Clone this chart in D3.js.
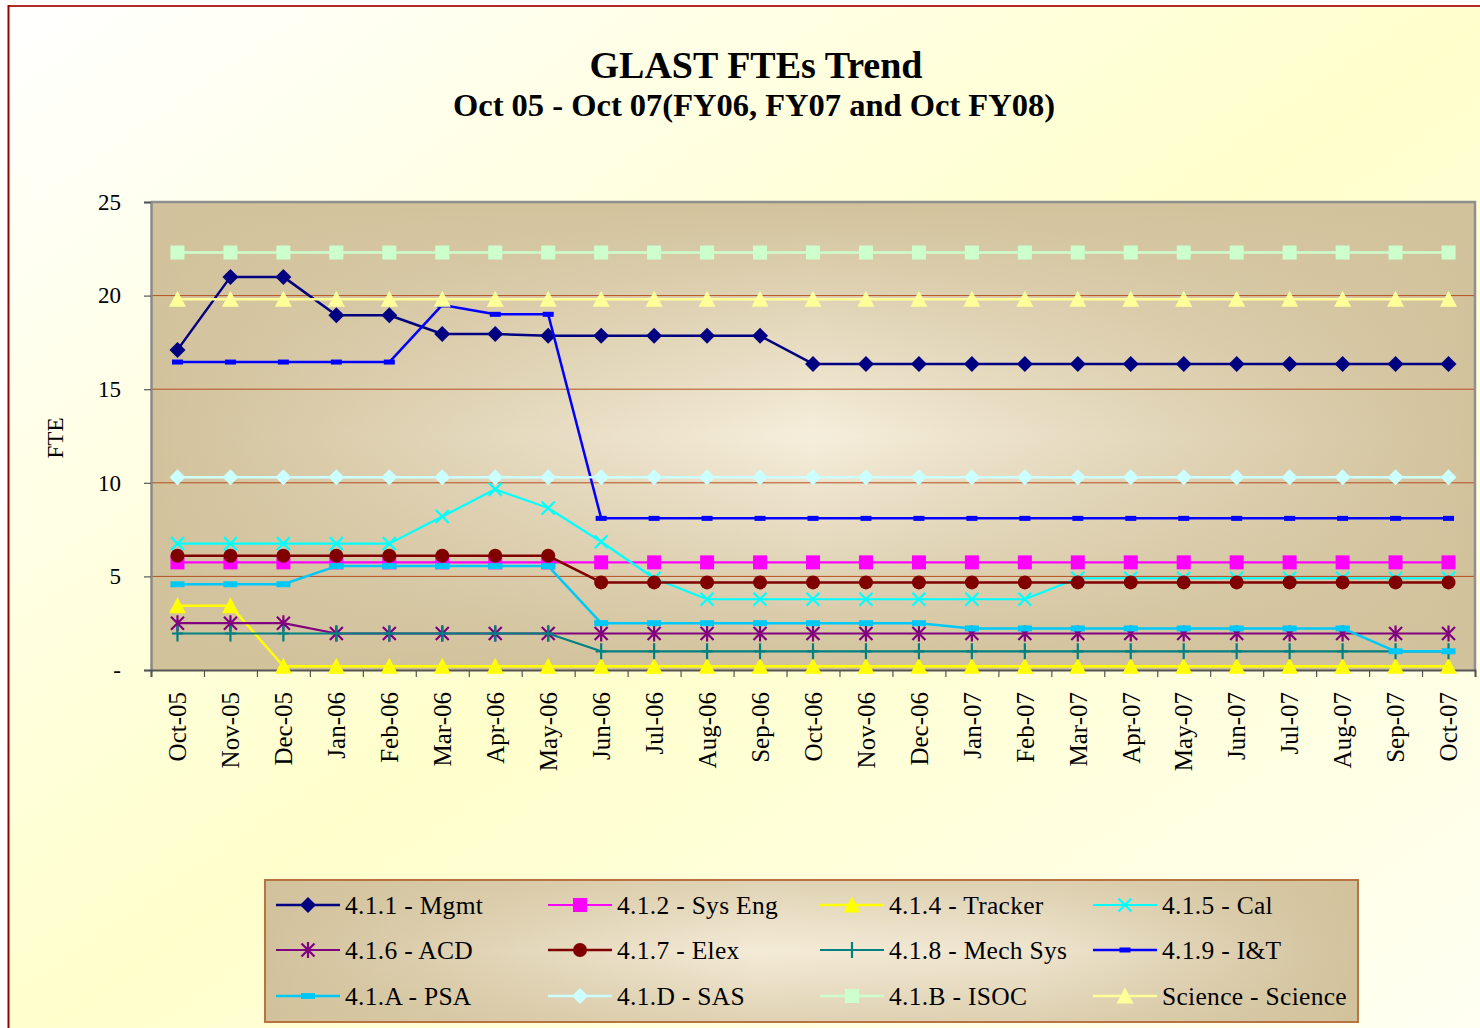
<!DOCTYPE html>
<html>
<head>
<meta charset="utf-8">
<script src="https://cdn.jsdelivr.net/npm/d3@7/dist/d3.min.js"></script>
<style>
  html, body { margin: 0; padding: 0; background: #ffffff; }
  svg { display: block; }
  text { font-family: "Liberation Serif", "Times New Roman", serif; fill: #000; }
</style>
</head>
<body>
<svg id="chart" width="1480" height="1028"></svg>
<script>
const categories = ["Oct-05","Nov-05","Dec-05","Jan-06","Feb-06","Mar-06","Apr-06","May-06","Jun-06","Jul-06","Aug-06","Sep-06","Oct-06","Nov-06","Dec-06","Jan-07","Feb-07","Mar-07","Apr-07","May-07","Jun-07","Jul-07","Aug-07","Sep-07","Oct-07"];

const seriesNames = ["4.1.1 - Mgmt","4.1.2 - Sys Eng","4.1.4 - Tracker","4.1.5 - Cal","4.1.6 - ACD","4.1.7 - Elex","4.1.8 - Mech Sys","4.1.9 - I&T","4.1.A - PSA","4.1.D - SAS","4.1.B - ISOC","Science - Science"];

const mgmt    = [17.1,21.0,21.0,18.95,18.95,17.95,17.95,17.85,17.85,17.85,17.85,17.85,16.35,16.35,16.35,16.35,16.35,16.35,16.35,16.35,16.35,16.35,16.35,16.35,16.35];
const sysEng  = [5.75,5.75,5.75,5.75,5.75,5.75,5.75,5.75,5.75,5.75,5.75,5.75,5.75,5.75,5.75,5.75,5.75,5.75,5.75,5.75,5.75,5.75,5.75,5.75,5.75];
const tracker = [3.43,3.43,0.2,0.2,0.2,0.2,0.2,0.2,0.2,0.2,0.2,0.2,0.2,0.2,0.2,0.2,0.2,0.2,0.2,0.2,0.2,0.2,0.2,0.2,0.2];
const cal     = [6.75,6.75,6.75,6.75,6.75,8.2,9.65,8.65,6.85,4.9,3.78,3.78,3.78,3.78,3.78,3.78,3.78,4.9,4.9,4.9,4.9,4.9,4.9,4.9,4.9];
const acd     = [2.5,2.5,2.5,1.95,1.95,1.95,1.95,1.95,1.95,1.95,1.95,1.95,1.95,1.95,1.95,1.95,1.95,1.95,1.95,1.95,1.95,1.95,1.95,1.95,1.95];
const elex    = [6.1,6.1,6.1,6.1,6.1,6.1,6.1,6.1,4.68,4.68,4.68,4.68,4.68,4.68,4.68,4.68,4.68,4.68,4.68,4.68,4.68,4.68,4.68,4.68,4.68];
const mechSys = [1.95,1.95,1.95,1.95,1.95,1.95,1.95,1.95,1.0,1.0,1.0,1.0,1.0,1.0,1.0,1.0,1.0,1.0,1.0,1.0,1.0,1.0,1.0,1.0,1.0];
const iAndT   = [16.45,16.45,16.45,16.45,16.45,19.5,19.0,19.0,8.1,8.1,8.1,8.1,8.1,8.1,8.1,8.1,8.1,8.1,8.1,8.1,8.1,8.1,8.1,8.1,8.1];
const psa     = [4.58,4.58,4.58,5.55,5.55,5.55,5.55,5.55,2.5,2.5,2.5,2.5,2.5,2.5,2.5,2.22,2.22,2.22,2.22,2.22,2.22,2.22,2.22,1.0,1.0];
const sas     = [10.3,10.3,10.3,10.3,10.3,10.3,10.3,10.3,10.3,10.3,10.3,10.3,10.3,10.3,10.3,10.3,10.3,10.3,10.3,10.3,10.3,10.3,10.3,10.3,10.3];
const isoc    = [22.3,22.3,22.3,22.3,22.3,22.3,22.3,22.3,22.3,22.3,22.3,22.3,22.3,22.3,22.3,22.3,22.3,22.3,22.3,22.3,22.3,22.3,22.3,22.3,22.3];
const science = [19.8,19.8,19.8,19.8,19.8,19.8,19.8,19.8,19.8,19.8,19.8,19.8,19.8,19.8,19.8,19.8,19.8,19.8,19.8,19.8,19.8,19.8,19.8,19.8,19.8];

const yTickValues = [0,5,10,15,20,25];
const yTickLabels = ["-","5","10","15","20","25"];

const seriesValues = [mgmt, sysEng, tracker, cal, acd, elex, mechSys, iAndT, psa, sas, isoc, science];
const seriesStyles = [
  {color:"#000080", marker:"diamond", width:2.5},
  {color:"#ff00ff", marker:"square", width:2.2},
  {color:"#ffff00", marker:"triangle", width:2.5},
  {color:"#00ffff", marker:"x", width:2.2},
  {color:"#800080", marker:"asterisk", width:2.2},
  {color:"#800000", marker:"circle", width:2.5},
  {color:"#008080", marker:"plus", width:2.2},
  {color:"#0000ff", marker:"dashSmall", width:2.5},
  {color:"#00c8f8", marker:"dash", width:2.5},
  {color:"#ccffff", marker:"diamond", width:2.5},
  {color:"#ccffcc", marker:"square", width:2.5},
  {color:"#ffff99", marker:"triangle", width:2.5}
];

const svg = d3.select("#chart");
const W = 1480, H = 1028;
const plot = {left:151, top:202, right:1475, bottom:670};

const defs = svg.append("defs");
const bg = defs.append("linearGradient").attr("id","bgGrad")
  .attr("x1","0").attr("y1","0").attr("x2","1").attr("y2","1");
bg.append("stop").attr("offset","0").attr("stop-color","#ffffff");
bg.append("stop").attr("offset","0.5").attr("stop-color","#ffffcc");
bg.append("stop").attr("offset","1").attr("stop-color","#fffff4");

const hg = defs.append("linearGradient").attr("id","hGrad")
  .attr("x1","0").attr("y1","0").attr("x2","1").attr("y2","0");
hg.append("stop").attr("offset","0").attr("stop-color","#d2c29c");
hg.append("stop").attr("offset","0.5").attr("stop-color","#f6eedc");
hg.append("stop").attr("offset","1").attr("stop-color","#d2c29c");

const vg = defs.append("linearGradient").attr("id","vGrad")
  .attr("x1","0").attr("y1","0").attr("x2","0").attr("y2","1");
vg.append("stop").attr("offset","0").attr("stop-color","#d2c29c").attr("stop-opacity",1);
vg.append("stop").attr("offset","0.5").attr("stop-color","#d2c29c").attr("stop-opacity",0);
vg.append("stop").attr("offset","1").attr("stop-color","#d2c29c").attr("stop-opacity",1);

// outer background & border
svg.append("rect").attr("x",0).attr("y",0).attr("width",W).attr("height",H).attr("fill","#ffffff");
svg.append("rect").attr("x",8).attr("y",6).attr("width",W+20).attr("height",H+20)
  .attr("fill","url(#bgGrad)");
svg.append("line").attr("x1",8).attr("y1",6).attr("x2",W).attr("y2",6)
  .attr("stroke","#b22a2a").attr("stroke-width",2);
svg.append("line").attr("x1",8.5).attr("y1",5).attr("x2",8.5).attr("y2",H)
  .attr("stroke","#990000").attr("stroke-width",2);

// titles
svg.append("text").attr("x",756).attr("y",78).attr("text-anchor","middle")
  .style("font-size","38px").style("font-weight","bold").text("GLAST FTEs Trend");
svg.append("text").attr("x",754).attr("y",116).attr("text-anchor","middle")
  .style("font-size","32.5px").style("font-weight","bold").text("Oct 05 - Oct 07(FY06, FY07 and Oct FY08)");

// scales
const x = d3.scaleBand().domain(categories).range([plot.left, plot.right]).padding(0);
const xb = d3.scaleLinear().domain([0, categories.length]).range([plot.left, plot.right]);
const y = d3.scaleLinear().domain([0,25]).range([plot.bottom, plot.top]);
const cx = c => x(c) + x.bandwidth()/2;

// plot area
const pw = plot.right - plot.left, ph = plot.bottom - plot.top;
svg.append("rect").attr("x",plot.left).attr("y",plot.top).attr("width",pw).attr("height",ph).attr("fill","url(#hGrad)");
svg.append("rect").attr("x",plot.left).attr("y",plot.top).attr("width",pw).attr("height",ph).attr("fill","url(#vGrad)");

// gridlines
svg.append("g").selectAll("line").data(yTickValues.filter(v => v > 0 && v < 25)).join("line")
  .attr("x1",plot.left).attr("x2",plot.right)
  .attr("y1",d => y(d)).attr("y2",d => y(d))
  .attr("stroke","#b4501e").attr("stroke-width",1);

// frame top & right
svg.append("path")
  .attr("d",`M${plot.left},${plot.top}H${plot.right}V${plot.bottom}`)
  .attr("fill","none").attr("stroke","#8f8f8f").attr("stroke-width",2.5);

// y axis
const yAxis = svg.append("g").attr("transform",`translate(${plot.left},0)`)
  .call(d3.axisLeft(y).tickValues(yTickValues).tickSize(7).tickPadding(23)
    .tickFormat((d,i) => yTickLabels[i]));
yAxis.select(".domain").attr("stroke","#8a8a8a").attr("stroke-width",2.5);
yAxis.selectAll(".tick line").attr("stroke","#555").attr("stroke-width",1.2);
yAxis.selectAll("text").style("font-size","23px").style("font-family","Liberation Serif, serif").attr("fill","#000");

svg.append("text").attr("transform","translate(63,438) rotate(-90)").attr("text-anchor","middle")
  .style("font-size","23px").text("FTE");

// x axis tick marks at boundaries
const xTicks = svg.append("g").attr("transform",`translate(0,${plot.bottom})`)
  .call(d3.axisBottom(xb).tickValues(d3.range(0, categories.length + 1)).tickSize(7).tickFormat(""));
xTicks.select(".domain").attr("stroke","#555").attr("stroke-width",2);
xTicks.selectAll(".tick line").attr("stroke","#555").attr("stroke-width",1.2);

// x axis labels
const xLab = svg.append("g").attr("transform",`translate(0,${plot.bottom})`)
  .call(d3.axisBottom(x).tickSize(0).tickPadding(0));
xLab.select(".domain").remove();
xLab.selectAll("text")
  .attr("transform","rotate(-90)")
  .attr("text-anchor","end")
  .attr("x",-22).attr("y",0).attr("dy","0.35em")
  .style("font-size","25px").style("font-family","Liberation Serif, serif").attr("fill","#000");

// marker drawing
function drawMarker(g, type, color) {
  switch (type) {
    case "diamond":
      g.append("path").attr("d","M0,-8L8,0L0,8L-8,0Z").attr("fill",color); break;
    case "square":
      g.append("rect").attr("x",-7).attr("y",-7).attr("width",14).attr("height",14).attr("fill",color); break;
    case "triangle":
      g.append("path").attr("d","M0,-8.5L8.5,7.5L-8.5,7.5Z").attr("fill",color); break;
    case "circle":
      g.append("circle").attr("r",7).attr("fill",color); break;
    case "x":
      g.append("path").attr("d","M-6.5,-6.5L6.5,6.5M6.5,-6.5L-6.5,6.5").attr("stroke",color).attr("stroke-width",2.2).attr("fill","none"); break;
    case "asterisk":
      g.append("path").attr("d","M-6.5,-6.5L6.5,6.5M6.5,-6.5L-6.5,6.5M0,-8L0,8").attr("stroke",color).attr("stroke-width",2.2).attr("fill","none"); break;
    case "plus":
      g.append("path").attr("d","M0,-8L0,8M-5.5,0L5.5,0").attr("stroke",color).attr("stroke-width",2.2).attr("fill","none"); break;
    case "dashSmall":
      g.append("rect").attr("x",-5.5).attr("y",-2.5).attr("width",11).attr("height",5).attr("fill",color); break;
    case "dash":
      g.append("rect").attr("x",-7).attr("y",-3).attr("width",14).attr("height",6).attr("fill",color); break;
  }
}

// series
const line = d3.line().x((d,i) => cx(categories[i])).y(d => y(d));
const seriesG = svg.append("g");
seriesValues.forEach((vals, si) => {
  const st = seriesStyles[si];
  const g = seriesG.append("g");
  g.append("path").datum(vals).attr("d", line)
    .attr("fill","none").attr("stroke",st.color).attr("stroke-width",st.width).attr("stroke-linejoin","round");
  g.selectAll("g.m").data(vals).join("g").attr("class","m")
    .attr("transform",(d,i) => `translate(${cx(categories[i])},${y(d)})`)
    .each(function() { drawMarker(d3.select(this), st.marker, st.color); });
});

// legend
const lg = defs.append("linearGradient").attr("id","lgGrad")
  .attr("x1","0").attr("y1","0").attr("x2","1").attr("y2","0");
lg.append("stop").attr("offset","0").attr("stop-color","#d2c29c");
lg.append("stop").attr("offset","0.45").attr("stop-color","#f4ebd7");
lg.append("stop").attr("offset","0.7").attr("stop-color","#efe5cf");
lg.append("stop").attr("offset","1").attr("stop-color","#d2c29c");
const legend = svg.append("g");
legend.append("rect").attr("x",265).attr("y",880).attr("width",1093).attr("height",142)
  .attr("fill","url(#lgGrad)");
legend.append("rect").attr("x",265).attr("y",880).attr("width",1093).attr("height",142)
  .attr("fill","url(#vGrad)").attr("opacity",0.6);
legend.append("rect").attr("x",265).attr("y",880).attr("width",1093).attr("height",142)
  .attr("fill","none").attr("stroke","#b87440").attr("stroke-width",2);
const colX = [276, 548, 820, 1093];
const rowY = [905, 950, 996];
seriesNames.forEach((name, i) => {
  const st = seriesStyles[i];
  const gx = colX[i % 4], gy = rowY[Math.floor(i / 4)];
  const item = legend.append("g").attr("transform",`translate(${gx},${gy})`);
  item.append("line").attr("x1",0).attr("x2",64).attr("y1",0).attr("y2",0)
    .attr("stroke",st.color).attr("stroke-width",st.width);
  drawMarker(item.append("g").attr("transform","translate(32,0)"), st.marker, st.color);
  item.append("text").attr("x",69).attr("y",0).attr("dy","0.35em")
    .style("font-size","25.5px").style("letter-spacing","0.3px").text(name);
});
</script>
</body>
</html>
